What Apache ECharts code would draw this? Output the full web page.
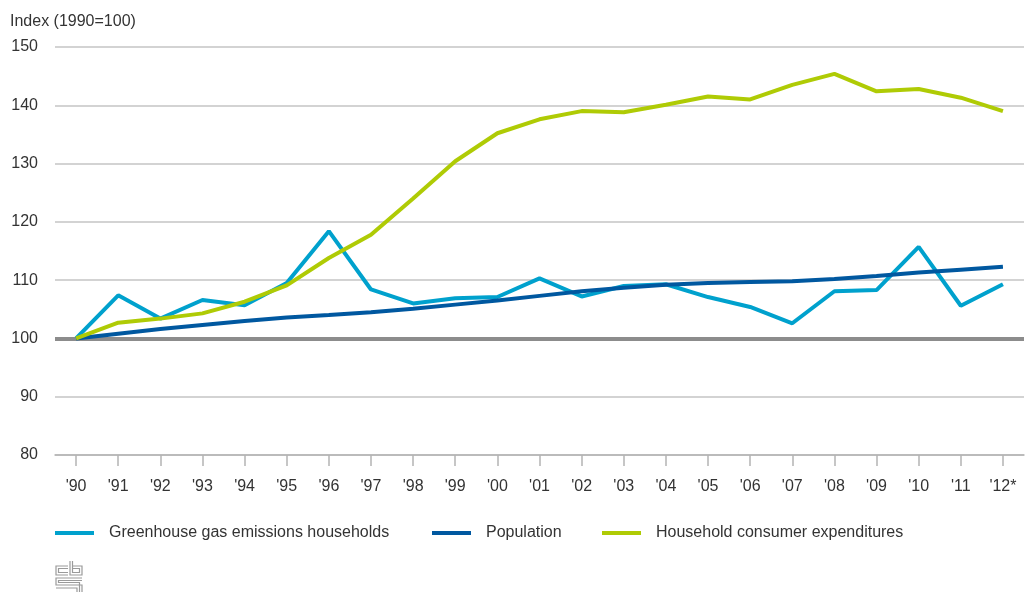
<!DOCTYPE html>
<html>
<head>
<meta charset="utf-8">
<script src="https://cdn.jsdelivr.net/npm/echarts@6/dist/echarts.min.js"></script>
<style>
  html, body { margin: 0; padding: 0; background: #fff; }
  #chart { width: 1028px; height: 592px; }
</style>
</head>
<body>
<div id="chart"></div>
<script>
// Years on the horizontal axis
const years = ["'90", "'91", "'92", "'93", "'94", "'95", "'96", "'97", "'98", "'99", "'00", "'01",
  "'02", "'03", "'04", "'05", "'06", "'07", "'08", "'09", "'10", "'11", "'12*"];

// Index values, 1990 = 100
const emissions = [100, 107.4, 103.4, 106.6, 105.7, 109.5, 118.4, 108.4, 106.0, 106.9, 107.1, 110.3,
  107.2, 109.0, 109.3, 107.1, 105.4, 102.6, 108.1, 108.3, 115.7, 105.6, 109.3];
const population = [100, 100.8, 101.6, 102.3, 103.0, 103.6, 104.0, 104.5, 105.1, 105.8, 106.5, 107.3,
  108.1, 108.7, 109.2, 109.5, 109.7, 109.8, 110.2, 110.7, 111.3, 111.8, 112.3];
const expenditures = [100, 102.7, 103.4, 104.3, 106.3, 109.1, 113.8, 117.8, 124.0, 130.4, 135.2, 137.6,
  139.0, 138.8, 140.1, 141.5, 141.0, 143.5, 145.4, 142.4, 142.8, 141.3, 139.0];

const seriesNames = ['Greenhouse gas emissions households', 'Population', 'Household consumer expenditures'];
const baseline = 100;

const FONT = 'Liberation Sans, Arial, sans-serif';
const TEXT = '#333333';
const GRID_LINE = '#c4c4c4';
const colors = ['#00a1cd', '#0058a0', '#afcb05'];

const chart = echarts.init(document.getElementById('chart'), null, { renderer: 'canvas' });

function legendFor(name, left) {
  return {
    left: left, top: 525, padding: 0,
    data: [name],
    icon: 'rect', itemWidth: 39, itemHeight: 4,
    textStyle: { fontFamily: FONT, fontSize: 16, color: TEXT, padding: [0, 0, 0, 10] },
    selectedMode: false
  };
}

// small grey logo mark, drawn with outlines
const logoStroke = { stroke: '#9a9a9a', lineWidth: 1.2, fill: null };
const logoParts = [
  [[68, 566], [56, 566], [56, 575], [68, 575]],
  [[68, 568.5], [58.5, 568.5], [58.5, 572.5], [68, 572.5]],
  [[70, 561], [70, 575], [82, 575], [82, 566], [72.5, 566]],
  [[72.5, 561], [72.5, 572.5], [79.5, 572.5], [79.5, 568.5], [72.5, 568.5]],
  [[82, 578], [56, 578], [56, 585], [82, 585], [82, 592]],
  [[82, 580.5], [58.5, 580.5], [58.5, 582.5], [79.5, 582.5], [79.5, 592]],
  [[56, 588], [77, 588], [77, 592]]
];

chart.setOption({
  animation: false,
  backgroundColor: '#ffffff',
  color: colors,
  title: {
    text: 'Index (1990=100)',
    left: 10, top: 14, padding: 0,
    textStyle: { fontFamily: FONT, fontSize: 16, fontWeight: 'normal', color: TEXT }
  },
  legend: [
    legendFor(seriesNames[0], 55),
    legendFor(seriesNames[1], 432),
    legendFor(seriesNames[2], 602)
  ],
  grid: { left: 55, right: 4, top: 47, bottom: 137, containLabel: false },
  xAxis: {
    type: 'category',
    data: years,
    boundaryGap: true,
    axisLine: { lineStyle: { color: '#b4b4b4', width: 1.5 } },
    axisTick: { show: true, alignWithLabel: true, length: 11, lineStyle: { color: '#b4b4b4', width: 1.5 } },
    axisLabel: { fontFamily: FONT, fontSize: 16, color: TEXT, margin: 24, interval: 0 }
  },
  yAxis: {
    type: 'value',
    min: 80, max: 150, interval: 10,
    axisLine: { show: false },
    axisTick: { show: false },
    axisLabel: { fontFamily: FONT, fontSize: 16, color: TEXT, margin: 17 },
    splitLine: { lineStyle: { color: GRID_LINE, width: 1.5 } }
  },
  graphic: logoParts.map(pts => ({
    type: 'polyline', silent: true,
    shape: { points: pts },
    style: logoStroke
  })),
  series: [
    {
      name: seriesNames[0], type: 'line', data: emissions,
      showSymbol: false, symbol: 'none',
      lineStyle: { width: 4, color: colors[0] }, z: 3,
      markLine: {
        silent: true, symbol: 'none', label: { show: false },
        lineStyle: { color: '#8c8c8c', width: 4, type: 'solid' },
        data: [{ yAxis: baseline }],
        z: 1
      }
    },
    {
      name: seriesNames[1], type: 'line', data: population,
      showSymbol: false, symbol: 'none',
      lineStyle: { width: 4, color: colors[1] }, z: 4
    },
    {
      name: seriesNames[2], type: 'line', data: expenditures,
      showSymbol: false, symbol: 'none',
      lineStyle: { width: 4, color: colors[2] }, z: 5
    }
  ]
});
</script>
</body>
</html>
